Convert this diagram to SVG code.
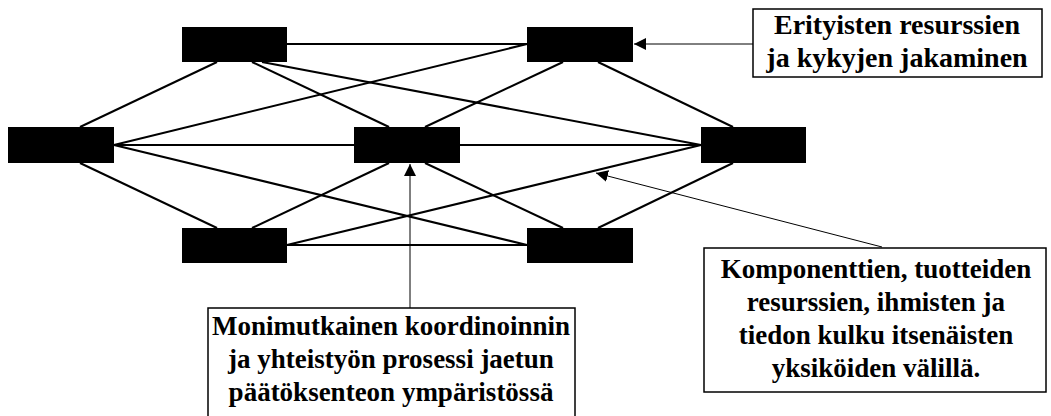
<svg xmlns="http://www.w3.org/2000/svg" width="1051" height="416" viewBox="0 0 1051 416">
  <style>
    .node { fill: #000; }
    .edge { stroke: #000; stroke-width: 2; fill: none; }
    .ptr { stroke: #000; stroke-width: 1; fill: none; marker-end: url(#tip); }
    .box { fill: #fff; stroke: #000; stroke-width: 1.5; }
    .lbl { font-family: "Liberation Serif", "Times New Roman", serif; font-weight: bold; font-size: 27px; fill: #000; text-anchor: middle; }
    .lbl-lg { font-size: 28px; }
  </style>
  <defs>
    <marker id="tip" markerUnits="userSpaceOnUse" markerWidth="13" markerHeight="12" refX="12" refY="6" orient="auto">
      <path d="M0,0 L12,6 L0,12 Z" fill="#000"/>
    </marker>
  </defs>
  <rect width="1051" height="416" fill="#fff"/>

  <!-- network links -->
  <g id="connectors">
    <line class="edge" x1="287" y1="44" x2="527" y2="44"/>
    <line class="edge" x1="287" y1="245" x2="527" y2="245"/>
    <line class="edge" x1="114" y1="145" x2="354" y2="145"/>
    <line class="edge" x1="460" y1="145" x2="701" y2="145"/>
    <line class="edge" x1="217" y1="62" x2="80" y2="127"/>
    <line class="edge" x1="217" y1="228" x2="80" y2="163"/>
    <line class="edge" x1="598" y1="62" x2="733" y2="127"/>
    <line class="edge" x1="598" y1="228" x2="733" y2="163"/>
    <line class="edge" x1="252" y1="62" x2="389" y2="127"/>
    <line class="edge" x1="252" y1="228" x2="389" y2="163"/>
    <line class="edge" x1="563" y1="62" x2="425" y2="127"/>
    <line class="edge" x1="563" y1="228" x2="425" y2="163"/>
    <line class="edge" x1="262" y1="62" x2="701" y2="145"/>
    <line class="edge" x1="287" y1="245" x2="701" y2="145"/>
    <line class="edge" x1="114" y1="145" x2="527" y2="44"/>
    <line class="edge" x1="114" y1="145" x2="527" y2="245"/>
    <!-- callout pointers -->
    <line class="ptr" x1="753" y1="44" x2="634" y2="44"/>
    <line class="ptr" x1="410" y1="308" x2="410" y2="164"/>
    <line class="ptr" x1="882" y1="247" x2="596" y2="173"/>
  </g>

  <!-- units -->
  <g id="node-tl"><rect class="node" x="182" y="27" width="105" height="35"/></g>
  <g id="node-tr"><rect class="node" x="527" y="27" width="106" height="35"/></g>
  <g id="node-ml"><rect class="node" x="8" y="127" width="106" height="36"/></g>
  <g id="node-mc"><rect class="node" x="354" y="127" width="106" height="36"/></g>
  <g id="node-mr"><rect class="node" x="701" y="127" width="105" height="36"/></g>
  <g id="node-bl"><rect class="node" x="182" y="228" width="105" height="35"/></g>
  <g id="node-br"><rect class="node" x="527" y="228" width="106" height="35"/></g>

  <!-- callouts -->
  <g id="note-sharing">
    <rect class="box" x="753" y="9" width="289" height="68"/>
    <text class="lbl lbl-lg" x="897" y="34">Erityisten resurssien</text>
    <text class="lbl lbl-lg" x="897" y="67">ja kykyjen jakaminen</text>
  </g>
  <g id="note-coordination">
    <rect class="box" x="208" y="308" width="367" height="120"/>
    <text class="lbl" x="391" y="335">Monimutkainen koordinoinnin</text>
    <text class="lbl" x="391" y="368">ja yhteistyön prosessi jaetun</text>
    <text class="lbl" x="391" y="401">päätöksenteon ympäristössä</text>
  </g>
  <g id="note-flow">
    <rect class="box" x="704" y="248" width="342" height="144"/>
    <text class="lbl" x="876" y="278">Komponenttien, tuotteiden</text>
    <text class="lbl" x="876" y="311">resurssien, ihmisten ja</text>
    <text class="lbl" x="876" y="344">tiedon kulku itsenäisten</text>
    <text class="lbl" x="876" y="377">yksiköiden välillä.</text>
  </g>
</svg>
